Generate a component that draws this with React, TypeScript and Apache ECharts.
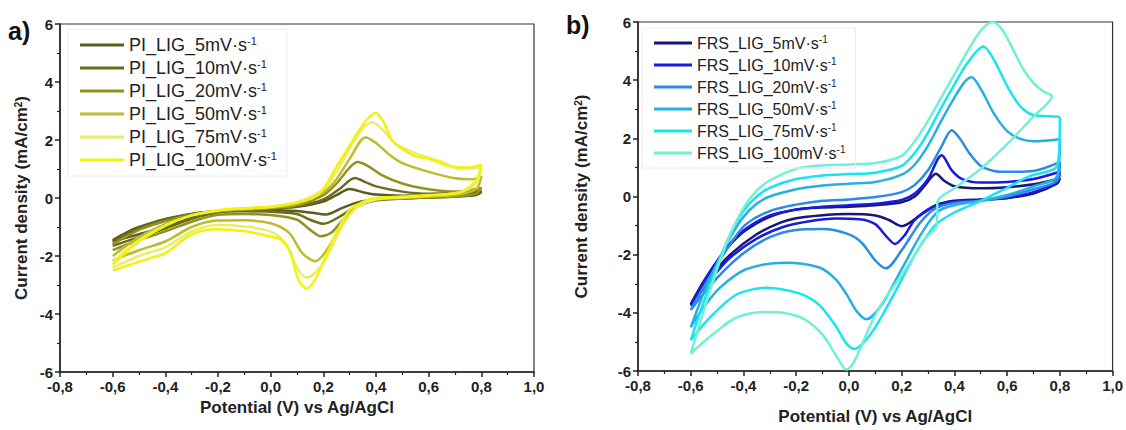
import React, { useEffect, useRef } from "react";
import * as echarts from "echarts";

// ---------- data ----------
const piNames = [
  "PI_LIG_5mV·s-1",
  "PI_LIG_10mV·s-1",
  "PI_LIG_20mV·s-1",
  "PI_LIG_50mV·s-1",
  "PI_LIG_75mV·s-1",
  "PI_LIG_100mV·s-1",
];
const frsNames = [
  "FRS_LIG_5mV·s-1",
  "FRS_LIG_10mV·s-1",
  "FRS_LIG_20mV·s-1",
  "FRS_LIG_50mV·s-1",
  "FRS_LIG_75mV·s-1",
  "FRS_LIG_100mV·s-1",
];

// PI_LIG loops: forward (anodic) scan then reverse scan, [potential V, mA/cm2]
const pi5 = [
  [-0.6, -1.45], [-0.55, -1.2], [-0.5, -1.0], [-0.4, -0.72], [-0.3, -0.55], [-0.2, -0.45], [-0.1, -0.4],
  [0.0, -0.36], [0.1, -0.3], [0.2, -0.12], [0.25, 0.1], [0.3, 0.31], [0.35, 0.2], [0.4, 0.12], [0.5, 0.08],
  [0.6, 0.1], [0.7, 0.15], [0.8, 0.2],
  [0.78, 0.1], [0.7, 0.05], [0.6, 0.02], [0.5, 0.0], [0.4, -0.05], [0.33, -0.15], [0.27, -0.35], [0.21, -0.57],
  [0.15, -0.5], [0.1, -0.45], [0.0, -0.42], [-0.1, -0.42], [-0.2, -0.45], [-0.3, -0.65], [-0.4, -1.0],
  [-0.5, -1.25], [-0.6, -1.5],
];
const pi10 = [
  [-0.6, -1.5], [-0.5, -1.05], [-0.4, -0.75], [-0.3, -0.55], [-0.2, -0.45], [-0.1, -0.4], [0.0, -0.35],
  [0.1, -0.28], [0.2, -0.05], [0.26, 0.3], [0.32, 0.69], [0.36, 0.55], [0.4, 0.4], [0.5, 0.22], [0.6, 0.15],
  [0.7, 0.18], [0.8, 0.25],
  [0.78, 0.12], [0.7, 0.05], [0.6, 0.02], [0.5, -0.02], [0.4, -0.08], [0.33, -0.25], [0.27, -0.6], [0.2, -0.89],
  [0.15, -0.75], [0.1, -0.55], [0.0, -0.47], [-0.1, -0.46], [-0.2, -0.5], [-0.3, -0.72], [-0.4, -1.05],
  [-0.5, -1.35], [-0.6, -1.65],
];
const pi20 = [
  [-0.6, -1.6], [-0.5, -1.1], [-0.4, -0.8], [-0.3, -0.58], [-0.2, -0.45], [-0.1, -0.4], [0.0, -0.35],
  [0.1, -0.25], [0.2, 0.1], [0.25, 0.5], [0.3, 1.05], [0.33, 1.24], [0.37, 1.1], [0.42, 0.8], [0.5, 0.5],
  [0.6, 0.3], [0.7, 0.22], [0.8, 0.35],
  [0.78, 0.15], [0.7, 0.05], [0.6, 0.02], [0.5, 0.0], [0.4, -0.08], [0.33, -0.3], [0.27, -0.8], [0.23, -1.2],
  [0.19, -1.32], [0.15, -1.1], [0.1, -0.75], [0.0, -0.59], [-0.1, -0.55], [-0.2, -0.58], [-0.3, -0.82],
  [-0.4, -1.15], [-0.5, -1.45], [-0.6, -1.8],
];
const pi50 = [
  [-0.6, -2.0], [-0.5, -1.35], [-0.4, -0.9], [-0.3, -0.6], [-0.2, -0.45], [-0.1, -0.38], [0.0, -0.33],
  [0.1, -0.2], [0.2, 0.2], [0.25, 0.65], [0.3, 1.35], [0.36, 2.09], [0.4, 1.9], [0.45, 1.5], [0.5, 1.2],
  [0.6, 0.9], [0.7, 0.68], [0.77, 0.65], [0.8, 0.75],
  [0.78, 0.3], [0.7, 0.1], [0.6, 0.05], [0.5, 0.0], [0.4, -0.05], [0.33, -0.3], [0.27, -0.9], [0.22, -1.7],
  [0.17, -2.18], [0.12, -1.9], [0.07, -1.2], [0.0, -0.87], [-0.1, -0.77], [-0.2, -0.78], [-0.3, -1.0],
  [-0.4, -1.5], [-0.5, -1.8], [-0.6, -2.15],
];
const pi75 = [
  [-0.6, -2.2], [-0.5, -1.45], [-0.4, -0.95], [-0.3, -0.6], [-0.2, -0.43], [-0.1, -0.35], [0.0, -0.3],
  [0.1, -0.15], [0.2, 0.3], [0.25, 0.9], [0.3, 1.7], [0.35, 2.4], [0.385, 2.61], [0.42, 2.4], [0.47, 1.9],
  [0.55, 1.55], [0.65, 1.25], [0.72, 1.0], [0.8, 1.05],
  [0.78, 0.5], [0.72, 0.2], [0.6, 0.08], [0.5, 0.02], [0.4, -0.05], [0.33, -0.3], [0.27, -1.0], [0.21, -2.1],
  [0.165, -2.62], [0.135, -2.74], [0.1, -2.4], [0.06, -1.6], [0.0, -1.16], [-0.1, -0.98], [-0.2, -0.92],
  [-0.3, -1.15], [-0.4, -1.7], [-0.45, -1.85], [-0.5, -2.0], [-0.6, -2.4],
];
const pi100 = [
  [-0.6, -2.3], [-0.5, -1.5], [-0.4, -0.95], [-0.3, -0.6], [-0.2, -0.42], [-0.1, -0.35], [0.0, -0.3],
  [0.1, -0.15], [0.16, 0.0], [0.2, 0.3], [0.25, 1.08], [0.3, 1.8], [0.33, 2.25], [0.37, 2.75], [0.4, 2.93],
  [0.43, 2.6], [0.465, 1.95], [0.54, 1.48], [0.6, 1.35], [0.68, 1.1], [0.75, 1.05], [0.8, 1.15],
  [0.78, 0.6], [0.72, 0.2], [0.6, 0.1], [0.5, 0.05], [0.4, 0.0], [0.365, -0.07], [0.3, -0.41], [0.25, -1.2],
  [0.21, -2.0], [0.17, -2.8], [0.135, -3.12], [0.105, -2.8], [0.075, -1.9], [0.04, -1.45], [0.0, -1.33],
  [-0.1, -1.15], [-0.2, -1.08], [-0.3, -1.25], [-0.4, -1.9], [-0.45, -2.05], [-0.5, -2.2], [-0.6, -2.5],
];

// FRS_LIG loops
const frs5 = [
  [-0.6, -3.7], [-0.55, -2.9], [-0.49, -2.1], [-0.44, -1.55], [-0.39, -1.15], [-0.3, -0.7], [-0.2, -0.45],
  [-0.1, -0.38], [0.0, -0.35], [0.1, -0.3], [0.2, -0.2], [0.25, 0.0], [0.29, 0.4], [0.33, 0.78], [0.36, 0.55],
  [0.4, 0.35], [0.5, 0.28], [0.6, 0.32], [0.7, 0.42], [0.8, 0.62],
  [0.79, 0.45], [0.7, 0.1], [0.6, -0.05], [0.5, -0.1], [0.4, -0.15], [0.33, -0.3], [0.27, -0.65], [0.2, -1.02],
  [0.15, -0.8], [0.1, -0.65], [0.0, -0.6], [-0.11, -0.65], [-0.2, -0.75], [-0.26, -0.9], [-0.35, -1.3],
  [-0.45, -2.0], [-0.52, -2.7], [-0.6, -3.7],
];
const frs10 = [
  [-0.6, -3.75], [-0.55, -2.95], [-0.49, -2.1], [-0.44, -1.5], [-0.39, -1.1], [-0.3, -0.65], [-0.2, -0.45],
  [-0.1, -0.35], [0.0, -0.3], [0.1, -0.25], [0.2, -0.12], [0.25, 0.1], [0.3, 0.6], [0.352, 1.42], [0.39, 0.9],
  [0.43, 0.6], [0.5, 0.48], [0.6, 0.5], [0.7, 0.6], [0.8, 0.85],
  [0.79, 0.5], [0.7, 0.15], [0.6, -0.05], [0.5, -0.12], [0.4, -0.18], [0.32, -0.35], [0.25, -0.8], [0.21, -1.35],
  [0.175, -1.63], [0.14, -1.35], [0.1, -0.95], [0.04, -0.78], [-0.05, -0.76], [-0.15, -0.85], [-0.25, -1.05],
  [-0.35, -1.45], [-0.45, -2.1], [-0.52, -2.8], [-0.6, -3.75],
];
const frs20 = [
  [-0.6, -3.9], [-0.55, -3.1], [-0.49, -2.2], [-0.44, -1.5], [-0.39, -0.95], [-0.3, -0.5], [-0.2, -0.28],
  [-0.1, -0.15], [0.0, -0.1], [0.1, -0.02], [0.2, 0.15], [0.25, 0.4], [0.3, 0.9], [0.35, 1.7], [0.39, 2.28],
  [0.42, 2.0], [0.46, 1.45], [0.5, 1.05], [0.55, 0.88], [0.6, 0.85], [0.7, 0.88], [0.8, 1.18],
  [0.79, 0.55], [0.7, 0.25], [0.6, 0.0], [0.5, -0.15], [0.4, -0.22], [0.33, -0.4], [0.27, -0.9], [0.2, -1.85],
  [0.14, -2.47], [0.1, -2.2], [0.05, -1.6], [0.0, -1.3], [-0.1, -1.12], [-0.2, -1.15], [-0.3, -1.4],
  [-0.4, -1.95], [-0.5, -2.8], [-0.6, -3.9],
];
const frs50 = [
  [-0.6, -4.5], [-0.55, -3.3], [-0.5, -2.3], [-0.45, -1.4], [-0.4, -0.7], [-0.35, -0.25], [-0.3, 0.0],
  [-0.2, 0.25], [-0.1, 0.38], [0.0, 0.44], [0.1, 0.5], [0.2, 0.75], [0.25, 1.1], [0.3, 1.75], [0.35, 2.6],
  [0.4, 3.4], [0.44, 3.95], [0.465, 4.1], [0.5, 3.7], [0.55, 2.85], [0.6, 2.25], [0.65, 1.98], [0.7, 1.9],
  [0.8, 1.97],
  [0.79, 0.7], [0.7, 0.35], [0.6, 0.05], [0.5, -0.15], [0.4, -0.3], [0.34, -0.5], [0.28, -1.2], [0.2, -2.5],
  [0.13, -3.65], [0.09, -4.1], [0.066, -4.22], [0.03, -3.95], [-0.01, -3.35], [-0.05, -2.85], [-0.11, -2.45],
  [-0.24, -2.28], [-0.39, -2.5], [-0.49, -3.14], [-0.55, -3.8], [-0.6, -4.5],
];
const frs75 = [
  [-0.6, -4.95], [-0.55, -3.6], [-0.5, -2.4], [-0.45, -1.3], [-0.4, -0.5], [-0.35, 0.0], [-0.3, 0.3],
  [-0.2, 0.6], [-0.1, 0.72], [0.0, 0.77], [0.1, 0.82], [0.2, 1.05], [0.25, 1.5], [0.3, 2.2], [0.35, 3.05],
  [0.4, 3.85], [0.45, 4.6], [0.51, 5.16], [0.55, 4.7], [0.6, 3.8], [0.65, 3.1], [0.7, 2.8], [0.8, 2.7],
  [0.795, 1.3], [0.78, 0.95], [0.686, 0.7], [0.6, 0.3], [0.5, -0.15], [0.4, -0.55], [0.334, -0.93],
  [0.3, -1.3], [0.25, -2.0], [0.18, -3.2], [0.1, -4.5], [0.05, -5.08], [0.02, -5.24], [-0.01, -5.05],
  [-0.05, -4.45], [-0.11, -3.75], [-0.173, -3.38], [-0.25, -3.2], [-0.312, -3.14], [-0.426, -3.37],
  [-0.527, -4.16], [-0.6, -4.95],
];
const frs100 = [
  [-0.6, -5.4], [-0.55, -3.9], [-0.5, -2.5], [-0.45, -1.3], [-0.4, -0.4], [-0.35, 0.2], [-0.3, 0.55],
  [-0.2, 0.95], [-0.1, 1.07], [0.0, 1.1], [0.1, 1.15], [0.2, 1.4], [0.25, 1.9], [0.3, 2.6], [0.35, 3.4],
  [0.4, 4.2], [0.45, 5.0], [0.5, 5.7], [0.545, 6.0], [0.58, 5.75], [0.62, 5.1], [0.66, 4.4], [0.7, 3.9],
  [0.74, 3.6], [0.77, 3.45],
  [0.7, 2.75], [0.6, 1.8], [0.5, 0.95], [0.4, 0.28], [0.336, -0.17], [0.333, -0.98], [0.29, -1.45],
  [0.25, -2.0], [0.2, -2.7], [0.13, -3.6], [0.08, -4.45], [0.04, -5.3], [0.01, -5.82], [-0.01, -5.95],
  [-0.04, -5.6], [-0.1, -4.75], [-0.173, -4.2], [-0.25, -4.0], [-0.312, -3.97], [-0.426, -4.16],
  [-0.515, -4.73], [-0.6, -5.4],
];

const piData = [pi5, pi10, pi20, pi50, pi75, pi100];
const frsData = [frs5, frs10, frs20, frs50, frs75, frs100];

const piColors = ["#5c5c1e", "#6c6c1a", "#92921f", "#bdbd2c", "#ecec6c", "#f2f20c"];
const frsColors = ["#16167c", "#1a1ae0", "#2a8ce2", "#26b0e2", "#18e4f2", "#70f0d4"];

const FONT = "Liberation Sans, Arial, sans-serif";

const fmtX = (v: number) => (Math.abs(v) < 1e-9 ? 0 : v).toFixed(1).replace(".", ",");
const fmtY = (v: number) => String(Math.round(v));
const legendFmt = (name: string) => name.replace(/-1$/, "{sup|-1}");

function makeAxes(gi: number, yNameGap: number, xNameGap: number) {
  const xAxis = {
    type: "value",
    gridIndex: gi,
    min: -0.8,
    max: 1.0,
    interval: 0.2,
    name: "Potential (V) vs Ag/AgCl",
    nameLocation: "middle",
    nameGap: xNameGap,
    nameTextStyle: { fontFamily: FONT, fontWeight: "bold", fontSize: 17, color: "#222" },
    axisLine: { show: true, onZero: false, lineStyle: { color: "#222", width: 1.5 } },
    axisTick: { show: true, length: 5, lineStyle: { color: "#222", width: 1.5 } },
    minorTick: { show: true, splitNumber: 2, length: 3, lineStyle: { color: "#222", width: 1.2 } },
    splitLine: { show: false },
    axisLabel: { formatter: fmtX, fontFamily: FONT, fontWeight: "bold", fontSize: 15, color: "#222", margin: 7 },
  };
  const yAxis = {
    type: "value",
    gridIndex: gi,
    min: -6,
    max: 6,
    interval: 2,
    name: "Current density (mA/cm{sup|2})",
    nameLocation: "middle",
    nameGap: yNameGap,
    nameTextStyle: {
      fontFamily: FONT,
      fontWeight: "bold",
      fontSize: 17,
      color: "#222",
      rich: { sup: { fontFamily: FONT, fontWeight: "bold", fontSize: 10, verticalAlign: "top", lineHeight: 10 } },
    },
    axisLine: { show: true, onZero: false, lineStyle: { color: "#222", width: 1.5 } },
    axisTick: { show: true, length: 5, lineStyle: { color: "#222", width: 1.5 } },
    minorTick: { show: true, splitNumber: 2, length: 3, lineStyle: { color: "#222", width: 1.2 } },
    splitLine: { show: false },
    axisLabel: { formatter: fmtY, fontFamily: FONT, fontWeight: "bold", fontSize: 15, color: "#222", margin: 7 },
  };
  return { xAxis, yAxis };
}

function makeLegend(names: string[], left: number, top: number, fontSize: number, lineH: number, gap: number, lineW: number) {
  return {
    data: names,
    orient: "vertical",
    left,
    top,
    icon: "rect",
    itemWidth: lineW,
    itemHeight: 3,
    itemGap: gap,
    padding: [6, 10, 6, 12],
    borderColor: "#ececec",
    borderWidth: 1,
    formatter: legendFmt,
    textStyle: {
      fontFamily: FONT,
      fontSize,
      lineHeight: lineH,
      color: "#222",
      rich: { sup: { fontFamily: FONT, fontSize: Math.round(fontSize * 0.6), verticalAlign: "top", lineHeight: Math.round(fontSize * 0.6) } },
    },
  };
}

export default function App() {
  const ref = useRef<HTMLDivElement>(null);
  useEffect(() => {
    if (!ref.current) return;
    const chart = echarts.init(ref.current, null, { renderer: "svg" });
    const a = makeAxes(0, 30, 26);
    const b = makeAxes(1, 48, 37);
    const series: any[] = [];
    piData.forEach((d, i) =>
      series.push({
        type: "line",
        name: piNames[i],
        data: d,
        xAxisIndex: 0,
        yAxisIndex: 0,
        symbol: "none",
        smooth: 0.3,
        lineStyle: { width: 2.5, color: piColors[i] },
        itemStyle: { color: piColors[i] },
      })
    );
    frsData.forEach((d, i) =>
      series.push({
        type: "line",
        name: frsNames[i],
        data: d,
        xAxisIndex: 1,
        yAxisIndex: 1,
        symbol: "none",
        smooth: 0.3,
        lineStyle: { width: 2.5, color: frsColors[i] },
        itemStyle: { color: frsColors[i] },
      })
    );
    chart.setOption({
      animation: false,
      backgroundColor: "#ffffff",
      grid: [
        { left: 60, top: 24, width: 474, height: 348, show: true, borderColor: "#333", borderWidth: 1.2, containLabel: false },
        { left: 638, top: 22, width: 475, height: 352, show: true, borderColor: "#333", borderWidth: 1.2, containLabel: false },
      ],
      xAxis: [a.xAxis, b.xAxis],
      yAxis: [a.yAxis, b.yAxis],
      legend: [
        makeLegend(piNames, 68, 29, 18, 20, 3, 44),
        makeLegend(frsNames, 642, 28, 16, 18, 4, 38),
      ],
      graphic: [
        { type: "text", left: 8, top: 18, style: { text: "a)", fontFamily: FONT, fontWeight: "bold", fontSize: 25, fill: "#111" } },
        { type: "text", left: 566, top: 12, style: { text: "b)", fontFamily: FONT, fontWeight: "bold", fontSize: 25, fill: "#111" } },
      ],
      series,
    });
    return () => chart.dispose();
  }, []);
  return (
    <div
      ref={ref}
      style={{ position: "fixed", left: 0, top: 0, width: 1126, height: 430, background: "#fff" }}
    />
  );
}
